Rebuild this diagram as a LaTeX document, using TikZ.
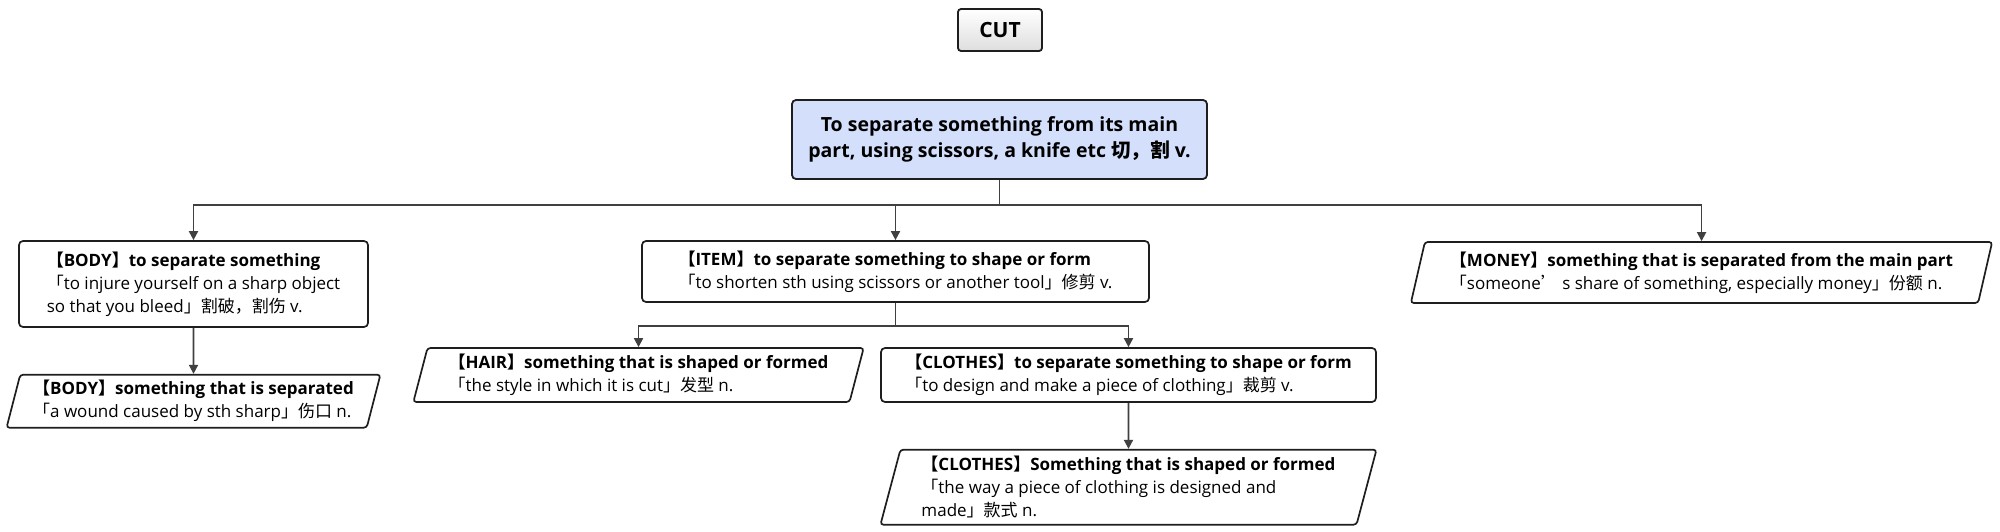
\documentclass[tikz,border=0pt]{standalone}
\usepackage{fontspec}
\setmainfont{Open Sans}
\newfontfamily\cjk{Noto Sans CJK SC}
\usetikzlibrary{arrows.meta}
\usetikzlibrary{positioning}
\usetikzlibrary{shapes.geometric}
\definecolor{boxline}{RGB}{30,30,30}
\definecolor{linkgray}{RGB}{64,64,64}
\definecolor{rootblue}{RGB}{212,223,252}
\newcommand{\zh}[1]{{\cjk #1}}
\tikzset{
    titlebox/.style={
           rectangle,
           rounded corners=3pt,
           draw=boxline, line width=1.8pt,
           top color=white, bottom color=black!13,
           minimum width=84pt, minimum height=42pt,
           font=\bfseries\fontsize{21}{26}\selectfont,
           },
    rootbox/.style={
           rectangle,
           rounded corners=4pt,
           draw=boxline, line width=1.8pt,
           fill=rootblue,
           align=center,
           minimum width=415pt, minimum height=79pt,
           font=\bfseries\fontsize{19.5}{26}\selectfont,
           },
    sensebox/.style={
           rectangle,
           rounded corners=4pt,
           draw=boxline, line width=1.7pt,
           align=left,
           font=\fontsize{17}{23}\selectfont,
           },
    usebox/.style={
           trapezium,
           trapezium left angle=75, trapezium right angle=105,
           trapezium stretches=true,
           rounded corners=3pt,
           draw=boxline, line width=1.7pt,
           align=left,
           font=\fontsize{17}{23}\selectfont,
           },
    link/.style={->, draw=linkgray, line width=1.8pt},
}

\begin{document}
\begin{tikzpicture}[x=1pt,y=-1pt,>={Triangle[length=9pt,width=9pt]}]
	\useasboundingbox (0,0) rectangle (2000,532);

	\node[titlebox] (cut) at (1000,30) {CUT};
	\node[rootbox] (cutdef) at (999.5,139.5)
			{To separate something from its main\\
			 part, using scissors, a knife etc \zh{切，割} v.};

	\node[sensebox, minimum width=349pt, minimum height=86pt] (body) at (193.5,284)
			{\textbf{\zh{【}BODY\zh{】}to separate something}\\
			 \zh{「}to injure yourself on a sharp object\\
			 so that you bleed\zh{」割破，割伤} v.};
	\node[sensebox, minimum width=507pt, minimum height=61pt] (item) at (895.5,271.5)
			{\textbf{\zh{【}ITEM\zh{】}to separate something to shape or form}\\
			 \zh{「}to shorten sth using scissors or another tool\zh{」修剪} v.};
	\node[usebox, minimum width=583pt, minimum height=61pt] (money) at (1701.5,272.5)
			{\textbf{\zh{【}MONEY\zh{】}something that is separated from the main part}\\
			 \zh{「}someone\zh{’}\ s share of something, especially money\zh{」份额} n.};

	\node[usebox, minimum width=375pt, minimum height=53pt] (body2) [below=46pt of body]
			{\textbf{\zh{【}BODY\zh{】}something that is separated}\\
			 \zh{「}a wound caused by sth sharp\zh{」伤口} n.};

	\node[usebox, minimum width=453pt, minimum height=54pt] (hair) at (638.5,375)
			{\textbf{\zh{【}HAIR\zh{】}something that is shaped or formed}\\
			 \zh{「}the style in which it is cut\zh{」发型} n.};
	\node[sensebox, minimum width=495pt, minimum height=54pt] (clothes) at (1128.5,375)
			{\textbf{\zh{【}CLOTHES\zh{】}to separate something to shape or form}\\
			 \zh{「}to design and make a piece of clothing\zh{」裁剪} v.};
	\node[usebox, minimum width=497pt, minimum height=75pt] (clothes2) [below=46pt of clothes]
			{\textbf{\zh{【}CLOTHES\zh{】}Something that is shaped or formed}\\
			 \zh{「}the way a piece of clothing is designed and\\
			 made\zh{」款式} n.};

	\coordinate[below=25pt of cutdef] (rootsplit);
	\coordinate[below=23pt of item] (itemsplit);

	\draw[link] (cutdef) -- (rootsplit) -| (body);
	\draw[link] (rootsplit) -| (item);
	\draw[link] (rootsplit) -| (money);

	\draw[link] (body) -- (body2);

	\draw[link] (item) -- (itemsplit) -| (hair);
	\draw[link] (itemsplit) -| (clothes);

	\draw[link] (clothes) -- (clothes2);
\end{tikzpicture}
\end{document}
